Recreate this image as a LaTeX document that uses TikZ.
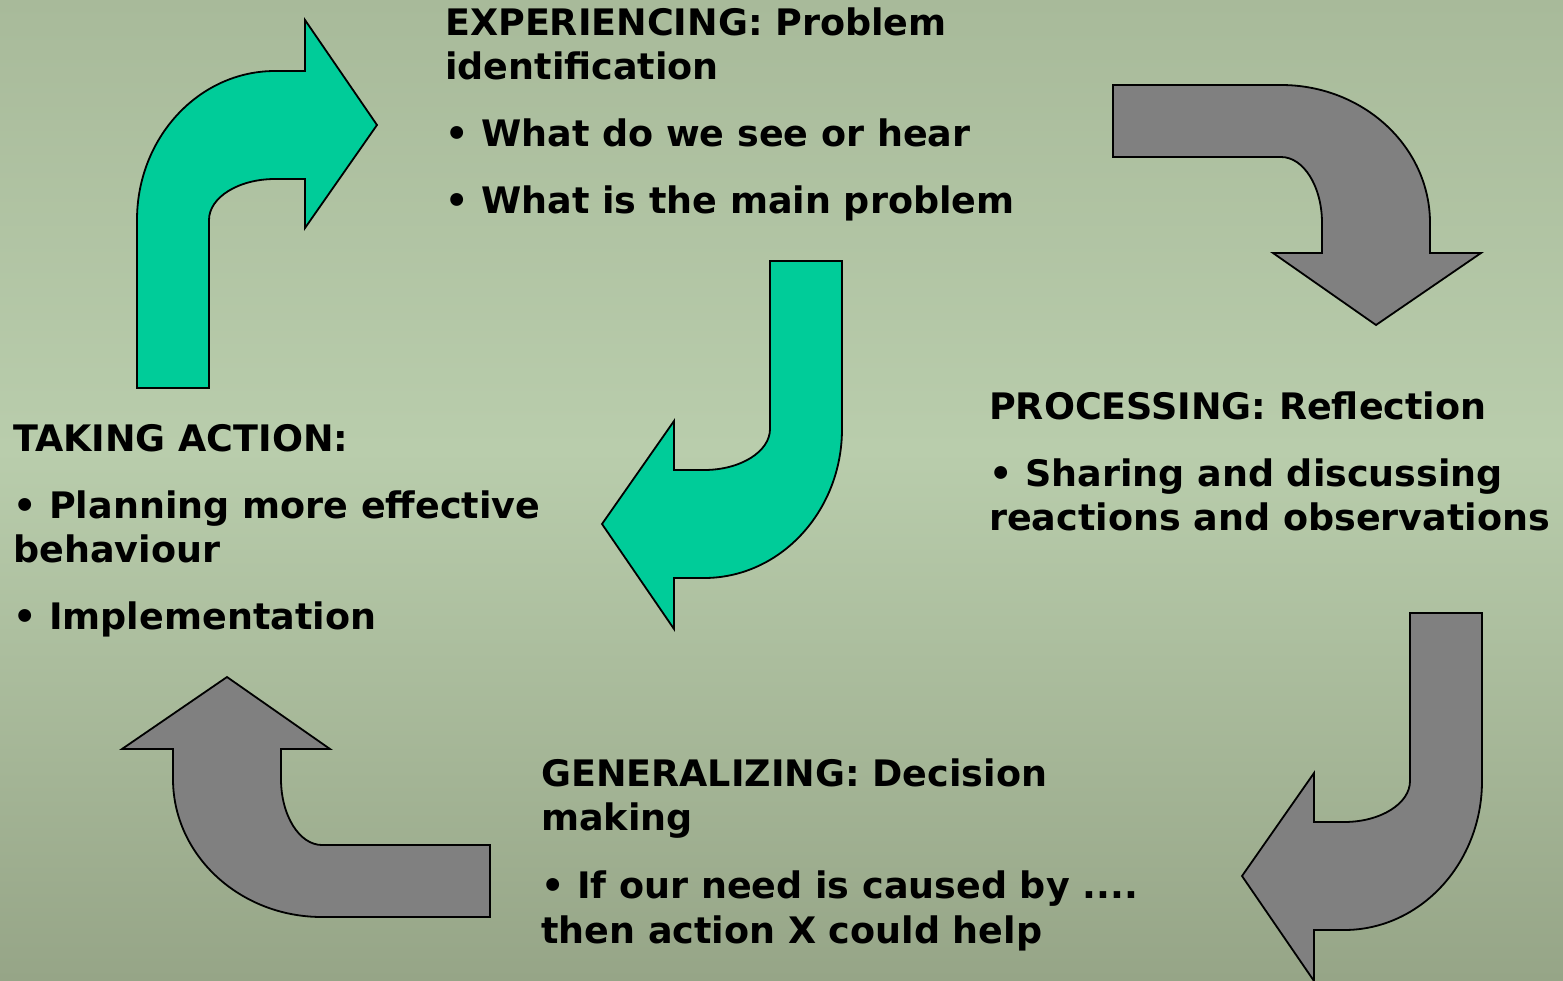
\documentclass[tikz,border=0pt]{standalone}
\usepackage{fontspec}
\setmainfont{DejaVu Sans}
\usetikzlibrary{shadings}
\definecolor{bgtop}{RGB}{168,186,154}
\definecolor{bgmid}{RGB}{185,205,172}
\definecolor{bgbot}{RGB}{150,165,135}
\definecolor{arrgreen}{RGB}{0,204,153}
\definecolor{arrgray}{RGB}{128,128,128}
\tikzset{
  bent/.style={draw=black, line width=1.8pt, line join=miter},
  greenarrow/.style={bent, fill=arrgreen},
  grayarrow/.style={bent, fill=arrgray},
  txt/.style={anchor=base west, inner sep=0pt, font=\bfseries\fontsize{36.5}{44}\selectfont, text=black},
}
% shape A: tail down, head right (local box 240 x 368)
\newcommand{\shapeA}[1]{%
  \path[#1] (0,368) -- (0,200) .. controls (0,117.7) and (61.8,51) .. (138,51)
    -- (168,51) -- (168,0) -- (240,105) -- (168,208) -- (168,159) -- (138,159)
    .. controls (101.5,159) and (72,177.4) .. (72,200) -- (72,368) -- cycle;}
% shape B: tail left, head down (local box 368 x 240)
\newcommand{\shapeB}[1]{%
  \path[#1] (0,0) -- (168,0) .. controls (250.3,0) and (317,61.8) .. (317,138)
    -- (317,168) -- (368,168) -- (263,240) -- (160,168) -- (209,168) -- (209,138)
    .. controls (209,101.5) and (190.6,72) .. (168,72) -- (0,72) -- cycle;}
\begin{document}
\begin{tikzpicture}[x=1pt,y=-1pt]
\useasboundingbox (0,0) rectangle (1563,980);
\shade[top color=bgtop, bottom color=bgmid] (0,0) rectangle (1563,450);
\shade[top color=bgmid, bottom color=bgbot] (0,450) rectangle (1563,980);

% arrows
\begin{scope}[shift={(137,20)}]\shapeA{greenarrow}\end{scope}
\begin{scope}[shift={(842,629)},rotate=180]\shapeA{greenarrow}\end{scope}
\begin{scope}[shift={(1482,981)},rotate=180]\shapeA{grayarrow}\end{scope}
\begin{scope}[shift={(1113,85)}]\shapeB{grayarrow}\end{scope}
\begin{scope}[shift={(490,917)},rotate=180]\shapeB{grayarrow}\end{scope}

% EXPERIENCING block
\node[txt] (e1) at (445,35) {EXPERIENCING: Problem};
\node[txt] (e2) at (445,79) {identification};
\node[txt] (e3) at (445,146) {• What do we see or hear};
\node[txt] (e4) at (445,213) {• What is the main problem};

% PROCESSING block
\node[txt] (p1) at (989,419) {PROCESSING: Reflection};
\node[txt] (p2) at (989,486) {• Sharing and discussing};
\node[txt] (p3) at (989,530) {reactions and observations};

% TAKING ACTION block
\node[txt] (t1) at (13,451) {TAKING ACTION:};
\node[txt] (t2) at (13,518) {• Planning more effective};
\node[txt] (t3) at (13,562) {behaviour};
\node[txt] (t4) at (13,629) {• Implementation};

% GENERALIZING block
\node[txt] (g1) at (541,786) {GENERALIZING: Decision};
\node[txt] (g2) at (541,830) {making};
\node[txt] (g3) at (541,898) {• If our need is caused by ....};
\node[txt] (g4) at (541,943) {then action X could help};
\end{tikzpicture}
\end{document}
